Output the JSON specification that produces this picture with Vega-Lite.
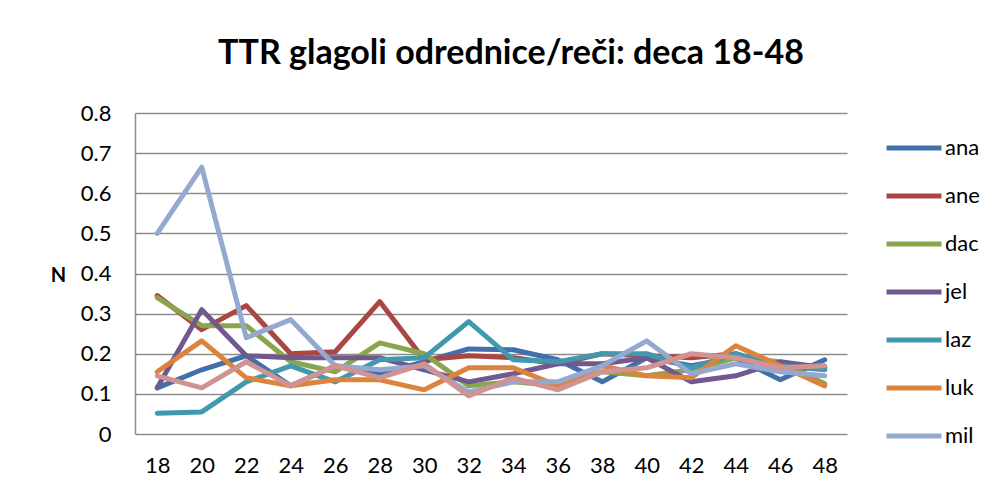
{
  "$schema": "https://vega.github.io/schema/vega-lite/v6.json",
  "width": 712,
  "height": 321,
  "autosize": {"type": "none"},
  "padding": {"left": 135, "top": 113, "right": 152, "bottom": 62},
  "background": "white",
  "title": {
    "text": "TTR glagoli odrednice/reči: deca 18-48",
    "font": "Lato",
    "fontSize": 34,
    "fontWeight": "bold",
    "color": "black",
    "anchor": "middle",
    "frame": "group",
    "dx": 20,
    "baseline": "alphabetic",
    "offset": 4
  },
  "datasets": {
    "ttr": [
      {"s":"ana","m":18,"v":0.115},{"s":"ana","m":20,"v":0.16},{"s":"ana","m":22,"v":0.195},{"s":"ana","m":24,"v":0.12},{"s":"ana","m":26,"v":0.17},{"s":"ana","m":28,"v":0.15},{"s":"ana","m":30,"v":0.18},{"s":"ana","m":32,"v":0.212},{"s":"ana","m":34,"v":0.21},{"s":"ana","m":36,"v":0.185},{"s":"ana","m":38,"v":0.13},{"s":"ana","m":40,"v":0.19},{"s":"ana","m":42,"v":0.17},{"s":"ana","m":44,"v":0.19},{"s":"ana","m":46,"v":0.135},{"s":"ana","m":48,"v":0.185},
      {"s":"ane","m":18,"v":0.345},{"s":"ane","m":20,"v":0.26},{"s":"ane","m":22,"v":0.32},{"s":"ane","m":24,"v":0.2},{"s":"ane","m":26,"v":0.205},{"s":"ane","m":28,"v":0.33},{"s":"ane","m":30,"v":0.185},{"s":"ane","m":32,"v":0.195},{"s":"ane","m":34,"v":0.19},{"s":"ane","m":36,"v":0.175},{"s":"ane","m":38,"v":0.2},{"s":"ane","m":40,"v":0.195},{"s":"ane","m":42,"v":0.19},{"s":"ane","m":44,"v":0.2},{"s":"ane","m":46,"v":0.165},{"s":"ane","m":48,"v":0.165},
      {"s":"dac","m":18,"v":0.34},{"s":"dac","m":20,"v":0.27},{"s":"dac","m":22,"v":0.27},{"s":"dac","m":24,"v":0.18},{"s":"dac","m":26,"v":0.155},{"s":"dac","m":28,"v":0.227},{"s":"dac","m":30,"v":0.2},{"s":"dac","m":32,"v":0.12},{"s":"dac","m":34,"v":0.13},{"s":"dac","m":36,"v":0.12},{"s":"dac","m":38,"v":0.155},{"s":"dac","m":40,"v":0.145},{"s":"dac","m":42,"v":0.16},{"s":"dac","m":44,"v":0.19},{"s":"dac","m":46,"v":0.18},{"s":"dac","m":48,"v":0.125},
      {"s":"jel","m":18,"v":0.115},{"s":"jel","m":20,"v":0.31},{"s":"jel","m":22,"v":0.195},{"s":"jel","m":24,"v":0.19},{"s":"jel","m":26,"v":0.19},{"s":"jel","m":28,"v":0.19},{"s":"jel","m":30,"v":0.16},{"s":"jel","m":32,"v":0.13},{"s":"jel","m":34,"v":0.15},{"s":"jel","m":36,"v":0.175},{"s":"jel","m":38,"v":0.175},{"s":"jel","m":40,"v":0.19},{"s":"jel","m":42,"v":0.13},{"s":"jel","m":44,"v":0.145},{"s":"jel","m":46,"v":0.18},{"s":"jel","m":48,"v":0.165},
      {"s":"laz","m":18,"v":0.052},{"s":"laz","m":20,"v":0.055},{"s":"laz","m":22,"v":0.13},{"s":"laz","m":24,"v":0.17},{"s":"laz","m":26,"v":0.13},{"s":"laz","m":28,"v":0.185},{"s":"laz","m":30,"v":0.19},{"s":"laz","m":32,"v":0.28},{"s":"laz","m":34,"v":0.185},{"s":"laz","m":36,"v":0.18},{"s":"laz","m":38,"v":0.2},{"s":"laz","m":40,"v":0.2},{"s":"laz","m":42,"v":0.165},{"s":"laz","m":44,"v":0.2},{"s":"laz","m":46,"v":0.17},{"s":"laz","m":48,"v":0.16},
      {"s":"luk","m":18,"v":0.155},{"s":"luk","m":20,"v":0.232},{"s":"luk","m":22,"v":0.14},{"s":"luk","m":24,"v":0.12},{"s":"luk","m":26,"v":0.135},{"s":"luk","m":28,"v":0.135},{"s":"luk","m":30,"v":0.11},{"s":"luk","m":32,"v":0.165},{"s":"luk","m":34,"v":0.165},{"s":"luk","m":36,"v":0.12},{"s":"luk","m":38,"v":0.17},{"s":"luk","m":40,"v":0.145},{"s":"luk","m":42,"v":0.14},{"s":"luk","m":44,"v":0.22},{"s":"luk","m":46,"v":0.17},{"s":"luk","m":48,"v":0.12},
      {"s":"mil","m":18,"v":0.5},{"s":"mil","m":20,"v":0.665},{"s":"mil","m":22,"v":0.24},{"s":"mil","m":24,"v":0.285},{"s":"mil","m":26,"v":0.17},{"s":"mil","m":28,"v":0.16},{"s":"mil","m":30,"v":0.17},{"s":"mil","m":32,"v":0.105},{"s":"mil","m":34,"v":0.13},{"s":"mil","m":36,"v":0.13},{"s":"mil","m":38,"v":0.17},{"s":"mil","m":40,"v":0.232},{"s":"mil","m":42,"v":0.15},{"s":"mil","m":44,"v":0.175},{"s":"mil","m":46,"v":0.155},{"s":"mil","m":48,"v":0.145},
      {"s":"nik","m":18,"v":0.145},{"s":"nik","m":20,"v":0.115},{"s":"nik","m":22,"v":0.18},{"s":"nik","m":24,"v":0.12},{"s":"nik","m":26,"v":0.17},{"s":"nik","m":28,"v":0.14},{"s":"nik","m":30,"v":0.175},{"s":"nik","m":32,"v":0.095},{"s":"nik","m":34,"v":0.14},{"s":"nik","m":36,"v":0.11},{"s":"nik","m":38,"v":0.155},{"s":"nik","m":40,"v":0.165},{"s":"nik","m":42,"v":0.2},{"s":"nik","m":44,"v":0.19},{"s":"nik","m":46,"v":0.165},{"s":"nik","m":48,"v":0.17}
    ]
  },
  "data": {"name": "ttr"},
  "mark": {"type": "line", "strokeWidth": 5, "strokeCap": "round", "strokeJoin": "round"},
  "encoding": {
    "x": {
      "field": "m",
      "type": "ordinal",
      "scale": {"type": "point", "padding": 0.5},
      "axis": {
        "title": null,
        "labelAngle": 0,
        "domain": false,
        "ticks": false,
        "grid": false,
        "labelFont": "Lato",
        "labelFontSize": 22,
        "labelColor": "black",
        "labelPadding": 21
      }
    },
    "y": {
      "field": "v",
      "type": "quantitative",
      "scale": {"domain": [0, 0.8], "nice": false},
      "axis": {
        "values": [0, 0.1, 0.2, 0.3, 0.4, 0.5, 0.6, 0.7, 0.8],
        "labelExpr": "datum.value == 0 ? '0' : format(datum.value, '.1f')",
        "title": "N",
        "titleAngle": 0,
        "titleX": -77,
        "titleY": 162,
        "titleAlign": "center",
        "titleBaseline": "middle",
        "titleFont": "Lato",
        "titleFontSize": 20,
        "titleFontWeight": "bold",
        "titleColor": "black",
        "labelFont": "Lato",
        "labelFontSize": 22,
        "labelColor": "black",
        "labelPadding": 24,
        "ticks": false,
        "domain": true,
        "domainColor": "#8c8c8c",
        "domainWidth": 1.5,
        "grid": true,
        "gridColor": "#8c8c8c",
        "gridWidth": 1.5
      }
    },
    "color": {
      "field": "s",
      "type": "nominal",
      "scale": {
        "domain": ["ana", "ane", "dac", "jel", "laz", "luk", "mil", "nik"],
        "range": ["#4270AB", "#AA4643", "#89A54E", "#71588F", "#4198AF", "#DB843D", "#93A9CF", "#D19392"]
      },
      "legend": {
        "title": null,
        "values": ["ana", "ane", "dac", "jel", "laz", "luk", "mil"],
        "orient": "none",
        "legendX": 749,
        "legendY": 24,
        "padding": 0,
        "symbolType": "stroke",
        "symbolSize": 3025,
        "symbolStrokeWidth": 5,
        "clipHeight": 22,
        "rowPadding": 26,
        "labelOffset": 1,
        "labelFont": "Lato",
        "labelFontSize": 22,
        "labelColor": "black"
      }
    }
  },
  "config": {
    "view": {"stroke": null}
  }
}
